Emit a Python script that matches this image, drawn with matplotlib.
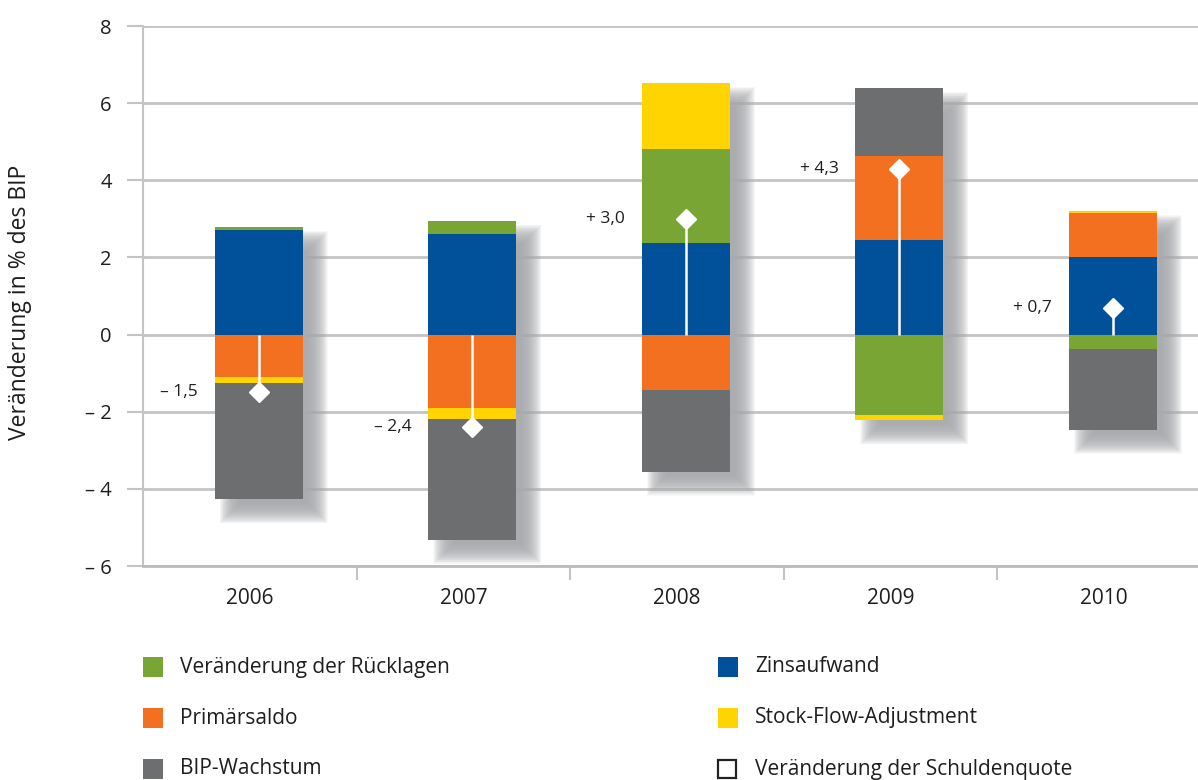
import matplotlib
matplotlib.use("Agg")
import matplotlib.pyplot as plt
from matplotlib.patches import Rectangle
import numpy as np

plt.rcParams['font.family'] = ['Open Sans', 'DejaVu Sans']

# ---------------- data ----------------
years = ["2006", "2007", "2008", "2009", "2010"]
zinsaufwand = [2.71, 2.62, 2.37, 2.45, 2.01]
ruecklagen = [0.08, 0.33, 2.44, -2.08, -0.37]
primaersaldo = [-1.09, -1.90, -1.43, 2.18, 1.14]
stock_flow = [-0.17, -0.28, 1.71, -0.14, 0.05]
bip_wachstum = [-3.01, -3.14, -2.12, 1.76, -2.10]
schuldenquote = [-1.5, -2.4, 3.0, 4.3, 0.7]
schuldenquote_labels = ["\u2013 1,5", "\u2013 2,4", "+ 3,0", "+ 4,3", "+ 0,7"]

y_ticks = [-6, -4, -2, 0, 2, 4, 6, 8]
y_ticklabels = ["\u2013 6", "\u2013 4", "\u2013 2", "0", "2", "4", "6", "8"]

legend_labels = ["Veränderung der Rücklagen", "Zinsaufwand", "Primärsaldo",
                 "Stock-Flow-Adjustment", "BIP-Wachstum", "Veränderung der Schuldenquote"]

# ---------------- style ----------------
C_GREEN = "#79a535"
C_BLUE = "#005199"
C_ORANGE = "#f37021"
C_YELLOW = "#ffd400"
C_GRAY = "#6d6e70"
C_SHADOW = "#a8aaad"
C_GRID = "#c4c4c4"
C_TEXT = "#1e1e1e"

series = [(zinsaufwand, C_BLUE), (ruecklagen, C_GREEN), (primaersaldo, C_ORANGE),
          (stock_flow, C_YELLOW), (bip_wachstum, C_GRAY)]

W, H = 1198, 780
fig = plt.figure(figsize=(W / 100, H / 100), dpi=100)
ax = fig.add_axes([143 / W, 1 - 566 / H, 1 - 143 / W, 540 / H])

xmax = (W - 250) / 213.5
ax.set_xlim(-0.5, xmax)
ax.set_ylim(-6, 8)

px_x = 1 / 213.5          # data units per pixel (x)
px_y = 14 / 540           # data units per pixel (y)

x = np.arange(len(years)) + 9 * px_x
bar_w = 88 * px_x

# stacking
pos_base = np.zeros(len(years))
neg_base = np.zeros(len(years))
for vals, col in series:
    v = np.array(vals, dtype=float)
    base = np.where(v >= 0, pos_base, neg_base)
    ax.bar(x, v, width=bar_w, bottom=base, color=col, zorder=3, linewidth=0)
    pos_base = pos_base + np.where(v >= 0, v, 0)
    neg_base = neg_base + np.where(v < 0, v, 0)
tops = pos_base
bottoms = neg_base

# soft drop shadows
dx, dy, blur = 15 * px_x, 14 * px_y, 10
n = 30
for xi, t, b in zip(x, tops, bottoms):
    for k in range(n):
        e = blur * (1 - 2 * k / (n - 1))
        ex, ey = e * px_x, e * px_y
        ax.add_patch(Rectangle((xi - bar_w / 2 + dx - ex, b - dy - ey),
                               bar_w + 2 * ex, (t - b) + 2 * ey,
                               facecolor=C_SHADOW, edgecolor='none',
                               alpha=0.075, zorder=2))

# debt-ratio change: stems + diamonds + labels
for xi, v, lab in zip(x, schuldenquote, schuldenquote_labels):
    ax.plot([xi, xi], [0, v], color="white", lw=1.8, zorder=4, solid_capstyle='butt')
    ax.plot([xi], [v], marker='D', ms=10.5, color="white", mec="white", zorder=5)
    ax.text(xi - bar_w / 2 - 17 * px_x, v, lab, ha='right', va='center',
            fontsize=12.5, color=C_TEXT, zorder=6)

# axes styling
ax.set_yticks(y_ticks)
ax.set_yticklabels(y_ticklabels, fontsize=14.5, color=C_TEXT)
ax.yaxis.grid(True, color=C_GRID, lw=2, zorder=0)
ax.set_axisbelow(True)
ax.tick_params(axis='y', length=11.5, width=1.5, color=C_GRID, pad=11)

ax.set_xticks(range(len(years)))
ax.set_xticklabels(years, fontsize=15, color=C_TEXT)
ax.tick_params(axis='x', length=0, pad=16)
ax.set_xticks([0.5, 1.5, 2.5, 3.5], minor=True)
ax.tick_params(axis='x', which='minor', length=10, width=1.5, color=C_GRID)

for s in ['top', 'right']:
    ax.spines[s].set_visible(False)
ax.spines['left'].set_color(C_GRID)
ax.spines['left'].set_linewidth(1.5)
ax.spines['bottom'].set_color("#bbbbbb")
ax.spines['bottom'].set_linewidth(2)

fig.text(20 / W, 1 - 302 / H, "Veränderung in % des BIP", rotation=90,
         ha='center', va='center', fontsize=16.5, color=C_TEXT)

# legend (manual)
leg_colors = [C_GREEN, C_BLUE, C_ORANGE, C_YELLOW, C_GRAY, None]
col_x = [143, 718]
row_y = [667, 718, 769]
for i, (lab, col) in enumerate(zip(legend_labels, leg_colors)):
    cx = col_x[i % 2]
    cy = row_y[i // 2]
    if col is None:
        rect = Rectangle((cx / W, 1 - (cy + 9) / H), 18 / W, 18 / H,
                         transform=fig.transFigure, facecolor='white',
                         edgecolor='#222222', lw=1.6)
    else:
        rect = Rectangle((cx / W, 1 - (cy + 10) / H), 20 / W, 20 / H,
                         transform=fig.transFigure, facecolor=col, edgecolor='none')
    fig.patches.append(rect)
    fig.text((cx + 37) / W, 1 - cy / H, lab, ha='left', va='center',
             fontsize=15, color=C_TEXT)

fig.savefig("out.png", dpi=100)
